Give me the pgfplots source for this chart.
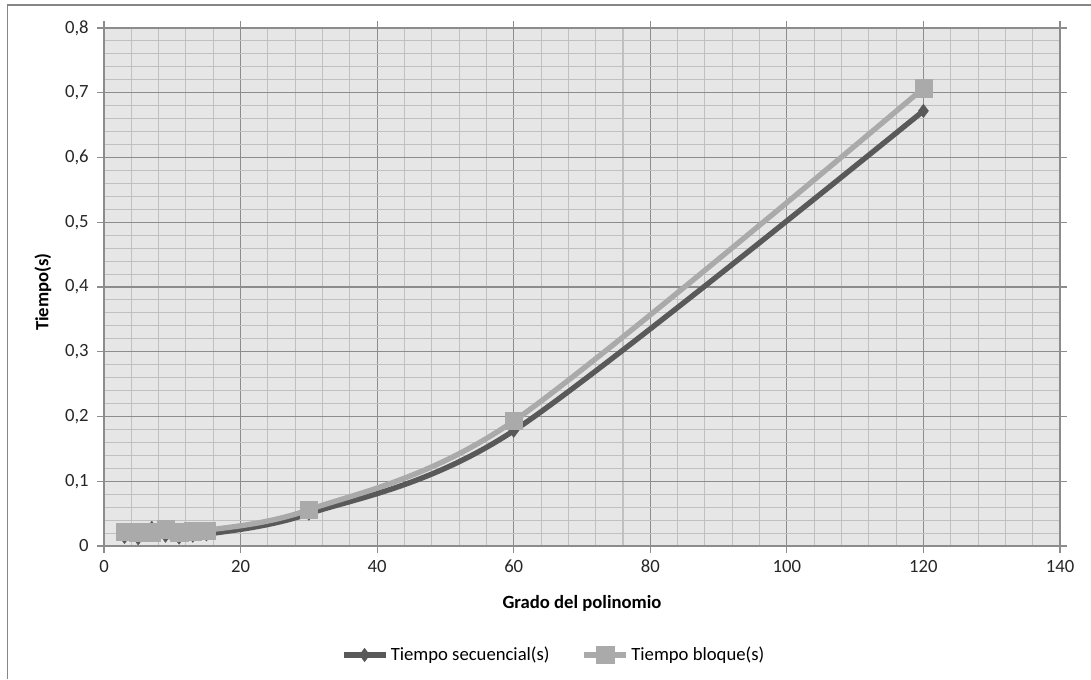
\documentclass[border=0pt]{standalone}
\usepackage{fontspec}
\setmainfont{Carlito}
\usepackage{pgfplots}
\pgfplotsset{compat=1.18}
\definecolor{bgc}{RGB}{230,230,230}
\definecolor{majg}{RGB}{140,140,140}
\definecolor{ming}{RGB}{192,192,192}
\definecolor{darkl}{RGB}{89,89,89}
\definecolor{lightl}{RGB}{170,170,170}
\definecolor{framec}{RGB}{134,134,134}
\begin{document}
\begin{tikzpicture}
\useasboundingbox (0pt,0pt) rectangle (818.25pt,509.25pt);
\draw[framec, line width=1.2pt] (5.5pt,0pt) -- (5.5pt,505.5pt) -- (818.25pt,505.5pt);
\begin{axis}[
  at={(78pt,99.75pt)}, anchor=south west, scale only axis,
  width=717pt, height=388.5pt,
  xmin=0, xmax=140, ymin=0, ymax=0.8,
  xtick={0,20,40,60,80,100,120,140},
  ytick={0,0.1,0.2,0.3,0.4,0.5,0.6,0.7,0.8},
  minor x tick num=4, minor y tick num=4,
  grid=both,
  major grid style={majg, line width=0.8pt},
  minor grid style={ming, line width=0.8pt},
  axis background/.style={fill=bgc},
  axis line style={majg, line width=0.8pt},
  tick align=outside, major tick length=5pt, minor tick length=0pt,
  tick style={majg, line width=0.8pt},
  ticklabel style={font=\fontsize{14}{16}\selectfont, text=black!85},
  xticklabel style={yshift=-2pt},
  yticklabel style={xshift=-3pt},
  /pgf/number format/assume math mode=true,
  /pgf/number format/use comma,
  yticklabel style={/pgf/number format/fixed, /pgf/number format/precision=1},
  every axis y label/.style={at={(rel axis cs:-0.0638,0.49)}, rotate=90, anchor=center},
  every axis x label/.style={at={(rel axis cs:0.5,-0.110)}, anchor=center},
  ylabel={\fontsize{14}{16}\selectfont\bfseries Tiempo(s)},
  xlabel={\fontsize{14}{16}\selectfont\bfseries Grado del polinomio},
  legend style={at={(rel axis cs:0.4707,-0.2104)}, anchor=center, draw=none, fill=none,
    font=\fontsize{14}{16}\selectfont, legend columns=2,
    /tikz/every even column/.append style={column sep=22pt}},
  legend cell align=left,
  legend image code/.code={\draw[mark repeat=2, mark phase=2] plot coordinates {(0cm,0cm) (0.55cm,0cm) (1.1cm,0cm)};},
]
\addplot[darkl, line width=4pt, smooth, tension=0.5, mark=diamond*, mark size=5pt,
  mark options={solid, fill=darkl, draw=darkl, line width=0.4pt}]
  coordinates {(3,0.014) (5,0.012) (7,0.028) (9,0.016) (11,0.013) (13,0.016) (15,0.018) (30,0.050) (60,0.178) (120,0.672)};
\addlegendentry{Tiempo secuencial(s)}
\addplot[lightl, line width=4pt, smooth, tension=0.5, mark=square*, mark size=6.5pt,
  mark options={solid, fill=lightl, draw=lightl, line width=0.4pt}]
  coordinates {(3,0.022) (5,0.021) (7,0.021) (9,0.026) (11,0.021) (13,0.023) (15,0.024) (30,0.056) (60,0.193) (120,0.707)};
\addlegendentry{Tiempo bloque(s)}
\end{axis}
\end{tikzpicture}
\end{document}
